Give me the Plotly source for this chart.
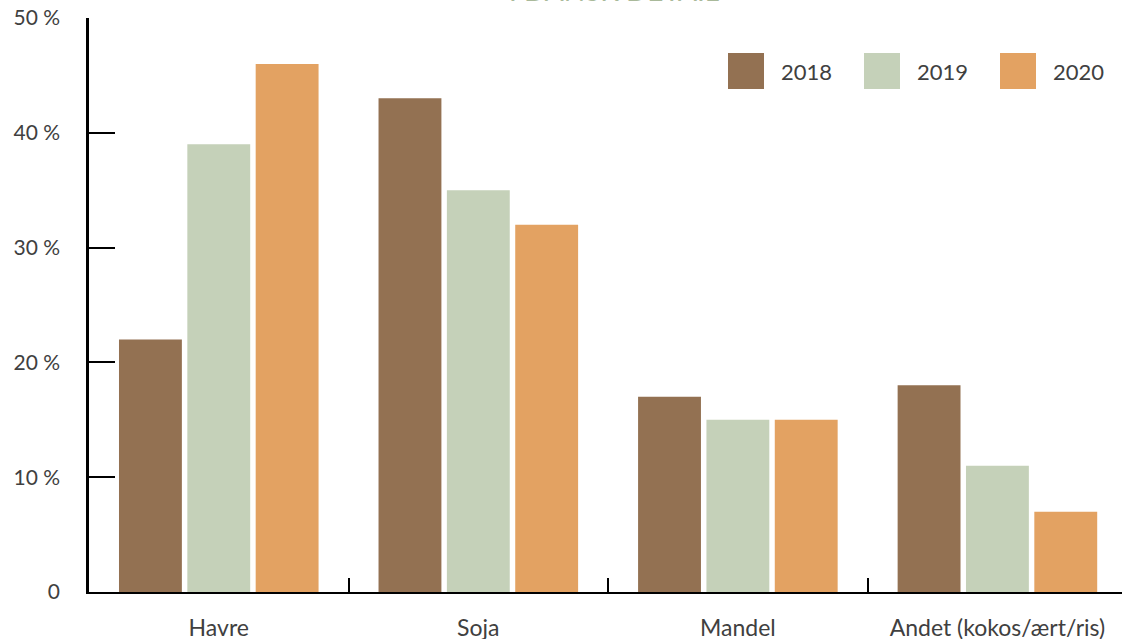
import plotly.graph_objects as go

# Plant-based drinks: share per type and year
categories = ["Havre", "Soja", "Mandel", "Andet (kokos/ært/ris)"]
years = ["2018", "2019", "2020"]
share_2018 = [22, 43, 17, 18]
share_2019 = [39, 35, 15, 11]
share_2020 = [46, 32, 15, 7]
y_tick_values = [0, 10, 20, 30, 40, 50]
y_tick_labels = ["0", "10 %", "20 %", "30 %", "40 %", "50 %"]
title_text = "I DANSK DETAIL"

series = [share_2018, share_2019, share_2020]
colors = ["#937152", "#C5D1B9", "#E3A262"]

W, H = 1122, 639
M_L, M_R, M_T, M_B = 89, 0, 18, 47
FONT = "Lato"
TEXT_COLOR = "#404040"

fig = go.Figure()
for name, vals, col in zip(years, series, colors):
    fig.add_trace(go.Bar(x=categories, y=vals, name=name, marker_color=col,
                         marker_line_width=0, showlegend=False))

plot_w = W - M_L - M_R
plot_h = H - M_T - M_B


def px_x(p):
    return (p - M_L) / plot_w


def px_y(p):
    return (H - M_B - p) / plot_h


# Legend: large swatches with labels along the top right
shapes = []
annotations = []
sw_left = [728, 864, 1000]
for i, (name, col) in enumerate(zip(years, colors)):
    x0 = sw_left[i]
    shapes.append(dict(type="rect", xref="paper", yref="paper",
                       x0=px_x(x0), x1=px_x(x0 + 36), y0=px_y(89), y1=px_y(53),
                       fillcolor=col, line_width=0))
    annotations.append(dict(text=name, xref="paper", yref="paper",
                            x=px_x(x0 + 51), y=px_y(71), xanchor="left", yanchor="middle",
                            showarrow=False, font=dict(family=FONT, size=22, color=TEXT_COLOR)))

# Title line sitting at the very top edge of the page
annotations.append(dict(text=title_text, xref="paper", yref="paper", x=px_x(614), y=1,
                        xanchor="center", yanchor="bottom", yshift=9, showarrow=False,
                        font=dict(family=FONT, size=28, color="#A9B99A")))

n = len(categories)
fig.update_layout(
    width=W, height=H,
    margin=dict(l=M_L, r=M_R, t=M_T, b=M_B, autoexpand=False),
    paper_bgcolor="white", plot_bgcolor="white",
    barmode="group", bargap=0.21, bargroupgap=0.08,
    shapes=shapes, annotations=annotations,
    font=dict(family=FONT, color=TEXT_COLOR),
)
fig.update_xaxes(
    type="category", range=[-0.5, n - 0.52],
    showline=True, linecolor="black", linewidth=2,
    ticks="inside", tickson="boundaries", ticklen=14, tickwidth=2, tickcolor="black",
    showgrid=False, zeroline=False, layer="below traces",
    tickfont=dict(family=FONT, size=23, color=TEXT_COLOR),
    ticklabelstandoff=14, ticklabeloverflow="allow",
)
fig.update_yaxes(
    range=[0, 50], tickvals=y_tick_values, ticktext=y_tick_labels,
    showline=True, linecolor="black", linewidth=2.5,
    ticks="inside", ticklen=26, tickwidth=2, tickcolor="black",
    showgrid=False, zeroline=False,
    tickfont=dict(family=FONT, size=21, color=TEXT_COLOR),
    ticklabelstandoff=22,
)

fig.write_html("out.html", config={"displayModeBar": False})
